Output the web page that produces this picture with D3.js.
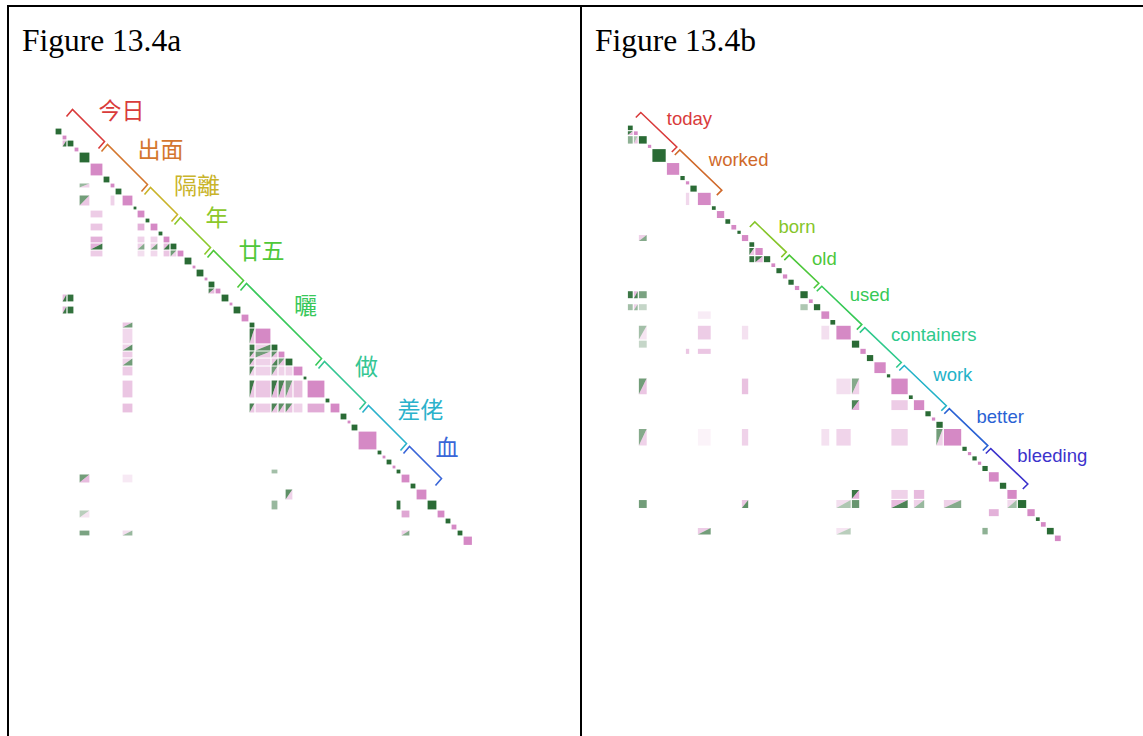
<!DOCTYPE html>
<html>
<head>
<meta charset="utf-8">
<script src="https://cdn.jsdelivr.net/npm/d3@7"></script>
<style>
  body { margin: 0; background: #fff; }
</style>
</head>
<body>
<div id="chart"></div>
<script>
// slot width of every token along the diagonal (panel a, panel b)
const slotsA = [7, 5, 7, 5, 11, 13, 7, 5, 7, 11, 4, 8, 5, 8, 5, 7, 7, 7, 8, 4, 8, 4, 7, 6, 8,
  4, 8, 8, 6, 16, 7, 7, 8, 10, 4, 18, 5, 10, 7, 4, 7, 19, 5, 4, 6, 4, 5, 9, 6, 11,
  10, 8, 6, 6, 6, 9.5];
const slotsB = [6, 5, 9, 4.5, 14.5, 13.5, 5.5, 4.5, 7.5, 14, 5, 8.5, 6, 6, 4.5, 7.5, 6, 8.5, 7.5, 5,
  6.5, 5.5, 6.5, 5.5, 8.5, 5, 7.5, 9, 6, 15.5, 8.5, 6.5, 7.5, 12.5, 4.5, 17.5, 5, 11.5, 6.5, 4.5,
  7.5, 18.5, 5.5, 4.5, 5.5, 4.5, 6.5, 11, 7.5, 10.5, 9.5, 8.5, 5, 6, 8, 7];

// words: [label, first token, last token]
const wordsA = [['今日', 1, 5], ['出面', 6, 10], ['隔離', 11, 15], ['年', 16, 20], ['廿五', 21, 25],
  ['曬', 26, 35], ['做', 36, 40], ['差佬', 41, 45], ['血', 46, 50]];
const wordsB = [['today', 1, 5], ['worked', 6, 10], ['born', 16, 20], ['old', 21, 25], ['used', 26, 30],
  ['containers', 31, 35], ['work', 36, 40], ['better', 41, 45], ['bleeding', 46, 50]];

// off-diagonal cells: [row, col, upper-left value, lower-right value]; >0 green, <0 pink
const cellsA = [
  [3, 2, -0.5, 0.9], [8, 5, 0.4, -0.3], [10, 5, 0.6, -0.4], [10, 8, -0.3, -0.3],
  [12, 6, -0.35, -0.35], [14, 6, -0.4, -0.4], [14, 12, -0.6, -0.6],
  [16, 6, -0.6, -0.6], [16, 12, -0.3, -0.3], [16, 14, -0.3, -0.3],
  [17, 6, -0.6, 0.9], [17, 12, -0.3, 0.5], [17, 14, -0.3, 0.6], [17, 16, -0.5, 0.9],
  [18, 6, -0.35, -0.35], [18, 12, -0.2, -0.2], [18, 14, -0.25, -0.25], [18, 16, -0.4, -0.4], [18, 17, 0.6, -0.3],
  [24, 23, 0.8, -0.5], [25, 2, -0.5, 0.9], [25, 3, 0.95, 0.95], [27, 2, -0.5, 0.9], [27, 3, 0.95, 0.95],
  [29, 10, -0.4, 0.6], [30, 10, -0.25, -0.25], [30, 29, 0.9, -0.4],
  [31, 10, -0.3, 0.7], [31, 29, 0.9, 0.9], [31, 30, -0.3, 0.7],
  [32, 10, -0.35, -0.35], [32, 29, 0.8, -0.4], [32, 30, 0.6, -0.35], [32, 31, 0.7, -0.4],
  [33, 10, -0.3, 0.6], [33, 29, 0.8, -0.4], [33, 30, -0.3, -0.3], [33, 31, -0.4, 0.8], [33, 32, 0.6, -0.4],
  [34, 10, -0.35, -0.35], [34, 29, 0.8, -0.3], [34, 30, -0.3, -0.3], [34, 31, 0.6, -0.35], [34, 32, -0.3, -0.3], [34, 33, -0.3, -0.3],
  [36, 10, -0.4, -0.4], [36, 29, 0.9, -0.4], [36, 30, -0.4, -0.4], [36, 31, 0.9, -0.5], [36, 32, 0.8, -0.5], [36, 33, 0.6, -0.4], [36, 34, -0.45, -0.45],
  [38, 10, -0.45, -0.45], [38, 29, 0.8, -0.4], [38, 30, -0.35, -0.35], [38, 31, 0.8, -0.4], [38, 32, 0.7, -0.4], [38, 33, 0.7, -0.4], [38, 34, -0.3, -0.3], [38, 36, -0.65, -0.65],
  [47, 31, 0.35, 0.35], [48, 5, 0.6, -0.5], [48, 10, -0.12, -0.12], [50, 33, 0.7, -0.3],
  [51, 31, 0.4, 0.4], [51, 47, 0.95, 0.95], [52, 5, 0.25, -0.15], [52, 48, -0.7, -0.7],
  [55, 5, 0.55, 0.55], [55, 10, -0.2, 0.4], [55, 48, -0.3, 0.5]
];
const cellsB = [
  [2, 1, 0.9, -0.5], [3, 1, 0.45, 0.45], [3, 2, 0.3, -0.4], [10, 8, -0.25, -0.25], [16, 3, -0.3, 0.5],
  [18, 17, 0.9, -0.4], [19, 17, 0.95, 0.95], [19, 18, 0.9, -0.5],
  [25, 1, 0.9, 0.9], [25, 2, -0.5, 0.8], [25, 3, 0.55, 0.55],
  [27, 1, 0.35, 0.35], [27, 2, -0.3, 0.4], [27, 3, 0.2, 0.2], [27, 25, 0.3, 0.3],
  [28, 10, -0.1, -0.1], [30, 3, 0.35, -0.15], [30, 10, -0.35, -0.35], [30, 16, -0.18, -0.18], [30, 28, -0.2, -0.2],
  [31, 3, 0.2, 0.2], [32, 8, -0.4, -0.4], [32, 10, -0.4, -0.4],
  [36, 3, 0.6, -0.4], [36, 16, -0.45, -0.45], [36, 30, -0.2, -0.2], [36, 31, 0.5, -0.3],
  [38, 31, 0.8, -0.6], [38, 36, -0.35, -0.35],
  [42, 3, 0.5, -0.3], [42, 10, -0.06, -0.06], [42, 16, -0.3, -0.3], [42, 28, -0.18, -0.18], [42, 30, -0.28, -0.28], [42, 36, -0.3, -0.3], [42, 41, 0.6, -0.3],
  [50, 31, 0.9, -0.6], [50, 36, -0.3, -0.3], [50, 38, -0.5, -0.5],
  [51, 3, 0.6, 0.6], [51, 16, -0.4, 0.7], [51, 30, -0.2, 0.3], [51, 31, 0.65, 0.65], [51, 36, -0.5, 0.8], [51, 38, -0.3, 0.4], [51, 42, -0.3, 0.5], [51, 50, -0.25, 0.35],
  [52, 48, -0.6, -0.6], [55, 10, -0.35, 0.6], [55, 30, -0.15, 0.25], [55, 47, 0.45, 0.45]
];

const titles = ['Figure 13.4a', 'Figure 13.4b'];

const W = 1143, H = 736;
const green = '#2a6b35', pink = '#d589c5';
const paletteA = ['#d93b3b', '#d4772e', '#c9b42a', '#8cc82b', '#4fc83a', '#38c85a', '#34c693', '#2bb2cb', '#3a66d8'];
const paletteB = ['#d93b3b', '#d0692a', '#86c52a', '#4cc73a', '#36c956', '#2ec98c', '#22b2c8', '#2a62d4', '#3c32cc'];
const alpha = d3.scalePow().exponent(0.8).domain([0, 1]).range([0, 1]);

const svg = d3.select('#chart').append('svg')
  .attr('width', W)
  .attr('height', H);

// table frame
const frame = svg.append('g').attr('stroke', '#000').attr('stroke-width', 2);
frame.append('line').attr('x1', 8).attr('x2', W).attr('y1', 6).attr('y2', 6);
frame.append('line').attr('x1', 8).attr('x2', 8).attr('y1', 5).attr('y2', H);
frame.append('line').attr('x1', 581).attr('x2', 581).attr('y1', 5).attr('y2', H);

svg.selectAll('.title')
  .data(titles)
  .enter().append('text')
  .attr('class', 'title')
  .attr('x', (d, i) => i === 0 ? 22 : 595)
  .attr('y', 51)
  .attr('font-family', '"Liberation Serif", "Times New Roman", serif')
  .attr('font-size', 31.5)
  .attr('fill', '#000')
  .text(d => d);

function drawPanel(p) {
  const pos = [];
  let acc = 0;
  for (const s of p.slots) { pos.push(acc); acc += s; }
  const total = acc;

  const x = d3.scaleLinear().domain([0, total]).range(p.xRange);
  const y = d3.scaleLinear().domain([0, total]).range(p.yRange);
  const inset = 0.6;

  const g = svg.append('g');

  const box = (row, col) => ({
    x0: x(pos[col - 1]) + inset,
    x1: x(pos[col - 1] + p.slots[col - 1]) - inset,
    y0: y(pos[row - 1]) + inset,
    y1: y(pos[row - 1] + p.slots[row - 1]) - inset
  });

  // off-diagonal cells, split into two triangles when the halves differ
  const cells = g.selectAll('.cell')
    .data(p.cells)
    .enter().append('g')
    .classed('cell', true);

  cells.filter(d => d[2] === d[3]).append('rect')
    .attr('x', d => box(d[0], d[1]).x0)
    .attr('y', d => box(d[0], d[1]).y0)
    .attr('width', d => box(d[0], d[1]).x1 - box(d[0], d[1]).x0)
    .attr('height', d => box(d[0], d[1]).y1 - box(d[0], d[1]).y0)
    .attr('fill', d => d[2] >= 0 ? green : pink)
    .attr('fill-opacity', d => alpha(Math.abs(d[2])));

  const split = cells.filter(d => d[2] !== d[3]);
  split.append('path')
    .attr('d', d => {
      const b = box(d[0], d[1]);
      return `M${b.x0},${b.y0}L${b.x1},${b.y0}L${b.x0},${b.y1}Z`;
    })
    .attr('fill', d => d[2] >= 0 ? green : pink)
    .attr('fill-opacity', d => alpha(Math.abs(d[2])));
  split.append('path')
    .attr('d', d => {
      const b = box(d[0], d[1]);
      return `M${b.x1},${b.y0}L${b.x1},${b.y1}L${b.x0},${b.y1}Z`;
    })
    .attr('fill', d => d[3] >= 0 ? green : pink)
    .attr('fill-opacity', d => alpha(Math.abs(d[3])));

  // diagonal tokens
  g.selectAll('.tok')
    .data(p.slots)
    .enter().append('rect')
    .classed('tok', true)
    .attr('x', (d, i) => x(pos[i]) + inset)
    .attr('y', (d, i) => y(pos[i]) + inset)
    .attr('width', (d, i) => x(pos[i] + d) - x(pos[i]) - 2 * inset)
    .attr('height', (d, i) => y(pos[i] + d) - y(pos[i]) - 2 * inset)
    .attr('fill', (d, i) => i % 2 === 0 ? green : pink);

  // word brackets
  const line = d3.line();
  const gap = 1.5;
  const words = g.selectAll('.word')
    .data(p.words)
    .enter().append('g')
    .classed('word', true);

  const ends = d => {
    const t0 = pos[d[1] - 1];
    const t1 = pos[d[2] - 1] + p.slots[d[2] - 1];
    const a = [x(t0) + p.off[0] + gap, y(t0) + p.off[1] + gap];
    const b = [x(t1) + p.off[0] - gap, y(t1) + p.off[1] - gap];
    return [a, b];
  };

  words.append('path')
    .attr('d', d => {
      const [a, b] = ends(d);
      return line([[a[0] + p.hook[0], a[1] + p.hook[1]], a, b, [b[0] + p.hook[0], b[1] + p.hook[1]]]);
    })
    .attr('fill', 'none')
    .attr('stroke', (d, i) => p.palette[i])
    .attr('stroke-width', 1.6);

  words.append('text')
    .attr('x', d => {
      const [a, b] = ends(d);
      return (a[0] + b[0]) / 2 + p.label[0];
    })
    .attr('y', d => {
      const [a, b] = ends(d);
      return (a[1] + b[1]) / 2 + p.label[1];
    })
    .attr('dominant-baseline', 'central')
    .attr('font-family', p.font)
    .attr('font-size', p.fontSize)
    .attr('fill', (d, i) => p.palette[i])
    .text(d => d[0]);
}

drawPanel({
  slots: slotsA, words: wordsA, cells: cellsA,
  xRange: [55, 472.5], yRange: [128, 545.5],
  off: [16, -20], hook: [-6, 7], label: [10, -17],
  palette: paletteA,
  font: '"Noto Sans CJK TC", "Noto Sans CJK SC", sans-serif', fontSize: 23
});

drawPanel({
  slots: slotsB, words: wordsB, cells: cellsB,
  xRange: [627.3, 1061.3], yRange: [125, 541.7],
  off: [12, -14], hook: [-5, 5], label: [8, -11],
  palette: paletteB,
  font: '"Liberation Sans", Arial, sans-serif', fontSize: 18.5
});
</script>
</body>
</html>
